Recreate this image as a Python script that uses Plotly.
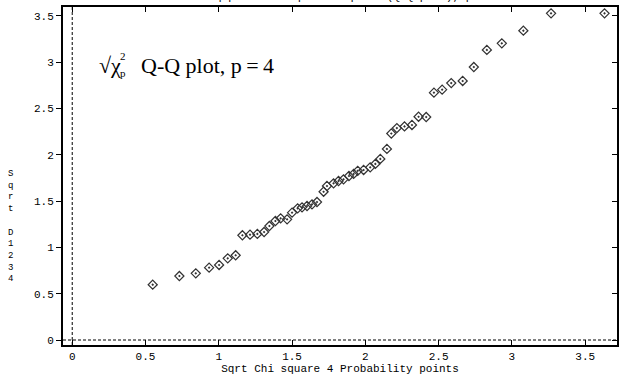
import plotly.graph_objects as go

# Data
chi_quantiles = [0.549, 0.731, 0.843, 0.934, 1.002, 1.061, 1.115, 1.161, 1.213, 1.263,
                 1.309, 1.345, 1.386, 1.422, 1.466, 1.500, 1.538, 1.568, 1.602, 1.636,
                 1.670, 1.715, 1.738, 1.783, 1.817, 1.851, 1.888, 1.920, 1.948, 1.988,
                 2.033, 2.068, 2.102, 2.147, 2.177, 2.215, 2.267, 2.318, 2.363, 2.415,
                 2.468, 2.524, 2.586, 2.664, 2.740, 2.829, 2.931, 3.078, 3.267, 3.632]
sqrt_d = [0.597, 0.691, 0.720, 0.781, 0.810, 0.882, 0.915, 1.131, 1.137, 1.145,
          1.166, 1.231, 1.285, 1.314, 1.303, 1.375, 1.422, 1.433, 1.447, 1.465,
          1.490, 1.601, 1.663, 1.692, 1.717, 1.735, 1.771, 1.793, 1.827, 1.836,
          1.865, 1.901, 1.955, 2.063, 2.230, 2.289, 2.306, 2.322, 2.411, 2.408,
          2.671, 2.703, 2.775, 2.797, 2.948, 3.132, 3.204, 3.340, 3.528, 3.528]

x_ticks = [0, 0.5, 1, 1.5, 2, 2.5, 3, 3.5]
x_tick_labels = ["0", "0.5", "1", "1.5", "2", "2.5", "3", "3.5"]
y_ticks = [0, 0.5, 1, 1.5, 2, 2.5, 3, 3.5]
y_tick_labels = ["0", "0.5", "1", "1.5", "2", "2.5", "3", "3.5"]
y_title_chars = ["S", "q", "r", "t", " ", "D", "1", "2", "3", "4"]

x_range = [-0.063, 3.717]
y_range = [-0.054, 3.596]

mono = "Liberation Mono"
serif = "Liberation Serif"

W, H = 624, 380
ML, MR, MT, MB = 63, 7, 7, 35
plot_h = H - MT - MB

fig = go.Figure()

# reference dashed lines at x=0 and y=0
fig.add_trace(go.Scatter(x=[0, 0], y=y_range, mode="lines",
                         line=dict(color="black", width=1, dash="3px,2px"),
                         hoverinfo="skip", showlegend=False))
fig.add_trace(go.Scatter(x=x_range, y=[0, 0], mode="lines",
                         line=dict(color="black", width=1, dash="3px,2px"),
                         hoverinfo="skip", showlegend=False))

fig.add_trace(go.Scatter(x=chi_quantiles, y=sqrt_d, mode="markers",
                         marker=dict(symbol="diamond-open-dot", size=7,
                                     color="#333333", line=dict(width=1.2, color="#333333")),
                         showlegend=False))

# invisible trace for mirror axes
fig.add_trace(go.Scatter(x=[None], y=[None], xaxis="x2", yaxis="y2", showlegend=False))

axis_common = dict(showgrid=False, zeroline=False, showline=True, linecolor="black",
                   linewidth=2, ticklen=5, tickwidth=1, tickcolor="black",
                   automargin=False,
                   tickfont=dict(family=mono, size=11, color="black"))

fig.update_layout(
    width=W, height=H,
    margin=dict(l=ML, r=MR, t=MT, b=MB),
    paper_bgcolor="white", plot_bgcolor="white",
    xaxis=dict(range=x_range, tickvals=x_ticks, ticktext=x_tick_labels,
               ticks="inside", **axis_common,
               title=dict(text="Sqrt Chi square 4 Probability points",
                          font=dict(family=mono, size=11, color="black"), standoff=0)),
    yaxis=dict(range=y_range, tickvals=y_ticks, ticktext=y_tick_labels,
               ticks="outside", **axis_common),
    xaxis2=dict(range=x_range, tickvals=x_ticks, overlaying="x", side="top",
                ticks="inside", showticklabels=False, **axis_common),
    yaxis2=dict(range=y_range, tickvals=y_ticks, overlaying="y", side="right",
                ticks="inside", showticklabels=False, **axis_common),
)

# y axis title: stacked letters in one text block
fig.add_annotation(text="<br>".join(y_title_chars), xref="paper", yref="paper",
                   x=-(ML - 10) / (W - ML - MR), y=(H - MB - 226) / plot_h,
                   xanchor="center", yanchor="middle", showarrow=False,
                   font=dict(family=mono, size=9, color="black"))

# clipped title at the top
fig.add_annotation(text="Chi-sq plots of squared Sqrt D (Q-Q plot), p = 4",
                   xref="paper", yref="paper", x=0.5, y=1.0, yshift=2,
                   xanchor="center", yanchor="bottom", showarrow=False,
                   font=dict(family=mono, size=11, color="black"))

# inset label
fig.add_annotation(text="\u221a\u03c7", xref="paper", yref="paper",
                   x=0.061, y=0.828, xanchor="left", yanchor="middle",
                   showarrow=False, font=dict(family=serif, size=22, color="black"))
fig.add_annotation(text="2", xref="paper", yref="paper",
                   x=0.099, y=0.856, xanchor="left", yanchor="middle",
                   showarrow=False, font=dict(family=serif, size=11, color="black"))
fig.add_annotation(text="p", xref="paper", yref="paper",
                   x=0.099, y=0.806, xanchor="left", yanchor="middle",
                   showarrow=False, font=dict(family=serif, size=11, color="black"))
fig.add_annotation(text="Q-Q plot, p\u2009=\u20094", xref="paper", yref="paper",
                   x=0.137, y=0.828, xanchor="left", yanchor="middle",
                   showarrow=False, font=dict(family=serif, size=22, color="black"))

fig.write_html("out.html", config={"displayModeBar": False},
               post_script="document.body.style.margin='0';")
